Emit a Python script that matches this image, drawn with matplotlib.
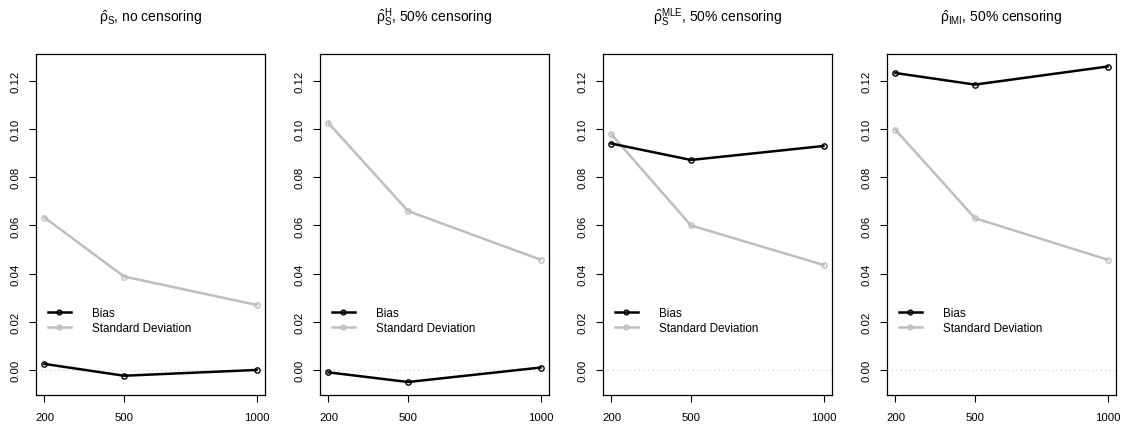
import matplotlib
matplotlib.use('Agg')
import matplotlib.pyplot as plt

plt.rcParams['font.family'] = ['Liberation Sans', 'DejaVu Sans']
plt.rcParams['mathtext.fontset'] = 'custom'
plt.rcParams['mathtext.rm'] = 'Liberation Sans'
plt.rcParams['mathtext.it'] = 'Liberation Sans'
plt.rcParams['mathtext.bf'] = 'Liberation Sans:bold'

sample_sizes = [200, 500, 1000]
titles = [r'$\hat{\rho}_{\mathrm{S}}$, no censoring',
          r'$\hat{\rho}_{\mathrm{S}}^{\mathrm{H}}$, 50% censoring',
          r'$\hat{\rho}_{\mathrm{S}}^{\mathrm{MLE}}$, 50% censoring',
          r'$\hat{\rho}_{\mathrm{IMI}}$, 50% censoring']
bias = [[0.0025, -0.0024, 0.0000],
        [-0.0010, -0.0050, 0.0010],
        [0.0940, 0.0872, 0.0930],
        [0.1233, 0.1185, 0.1260]]
sd = [[0.0633, 0.0388, 0.0270],
      [0.1025, 0.0660, 0.0458],
      [0.0978, 0.0600, 0.0436],
      [0.0997, 0.0630, 0.0458]]
yticks = [0.00, 0.02, 0.04, 0.06, 0.08, 0.10, 0.12]

W, H = 1130, 427
fig = plt.figure(figsize=(W / 100, H / 100), dpi=100)
lefts = [36, 320, 603, 887]
box_w = 229
top, bottom = 55, 396

for i in range(4):
    ax = fig.add_axes([lefts[i] / W, 1 - bottom / H, box_w / W, (bottom - top) / H])
    ax.axhline(0, color='#cccccc', lw=0.8, ls=(0, (1, 3)), zorder=1)
    ax.plot(sample_sizes, bias[i], color='black', lw=1.8, marker='o', ms=3.8,
            mfc='none', mec='black', mew=1.0, label='Bias', zorder=3)
    ax.plot(sample_sizes, sd[i], color='#bebebe', lw=1.8, marker='o', ms=3.8,
            mfc='none', mec='#bebebe', mew=1.0, label='Standard Deviation', zorder=2)
    ax.set_xlim(168, 1032)
    ax.set_ylim(-0.0104, 0.1312)
    ax.set_xticks(sample_sizes)
    ax.set_xticklabels([str(s) for s in sample_sizes])
    ax.set_yticks(yticks)
    ax.set_yticklabels(['%.2f' % v for v in yticks], rotation=90, va='center')
    ax.tick_params(length=5, width=0.8, labelsize=8.2, colors='black')
    ax.tick_params(axis='x', pad=7)
    ax.tick_params(axis='y', pad=6)
    for s in ax.spines.values():
        s.set_linewidth(0.9)
    ax.legend(loc='lower left', bbox_to_anchor=(0.03, 0.166), frameon=False,
              fontsize=8.4, handlelength=2.0, handletextpad=1.8, labelspacing=0.25,
              borderaxespad=0, markerscale=0.9)
    fig.text((lefts[i] + box_w / 2) / W, 1 - 18 / H, titles[i],
             ha='center', va='center', fontsize=10)

fig.savefig('out.png', dpi=100)
